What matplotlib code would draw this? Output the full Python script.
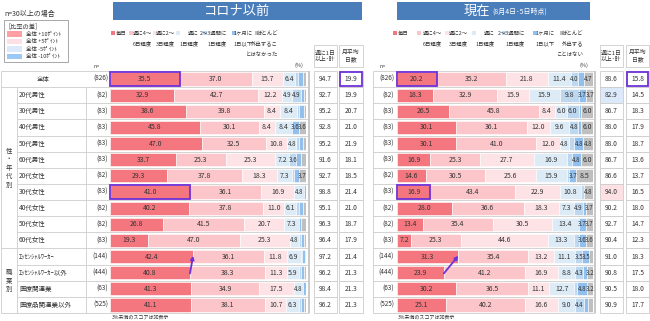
import matplotlib
matplotlib.use('Agg')
import matplotlib.pyplot as plt
from matplotlib.patches import Rectangle, FancyArrowPatch

plt.rcParams['font.family'] = ['Noto Sans CJK JP', 'DejaVu Sans']

# ---------------- data ----------------
categories = ['全体', '20代男性', '30代男性', '40代男性', '50代男性', '60代男性',
              '20代女性', '30代女性', '40代女性', '50代女性', '60代女性',
              'ｴｯｾﾝｼｬﾙﾜｰｶｰ', 'ｴｯｾﾝｼｬﾙﾜｰｶｰ以外', '医療関連業', '医療品関連業以外']
n_values = [826, 82, 83, 83, 83, 83, 82, 83, 82, 82, 83, 144, 444, 63, 525]
group_labels = ['性・年代別', '職業別']

series_before = ['毎日', '週に4～\n6日程度', '週に2～\n3日程度', '週に\n1日程度',
                 '2～3週間に\n1日程度', '1ヶ月に\n1日以下', 'ほとんど\n外出するこ\nとはなかった']
series_now = ['毎日', '週に4～\n6日程度', '週に2～\n3日程度', '週に\n1日程度',
              '2～3週間に\n1日程度', '1ヶ月に\n1日以下', 'ほとんど\n外出する\nことはない']

before_daily = [35.5, 32.9, 38.6, 45.8, 47.0, 33.7, 29.3, 41.0, 40.2, 26.8, 19.3, 42.4, 40.8, 41.3, 41.1]
before_4to6 = [37.0, 42.7, 39.8, 30.1, 32.5, 25.3, 37.8, 36.1, 37.8, 41.5, 47.0, 36.1, 38.3, 34.9, 38.1]
before_2to3 = [15.7, 12.2, 8.4, 8.4, 10.8, 25.3, 18.3, 16.9, 11.0, 20.7, 25.3, 11.8, 11.3, 17.5, 10.7]
before_1day = [6.4, 4.9, 8.4, 8.4, 4.8, 7.2, 7.3, 4.8, 6.1, 7.3, 4.8, 6.9, 5.9, 4.8, 6.3]
before_2to3w = [1.5, 4.9, 1.2, 0.0, 1.2, 3.6, 1.2, 0.0, 1.2, 0.0, 1.2, 0.7, 1.1, 0.0, 1.0]
before_month = [2.2, 1.2, 2.4, 3.6, 2.4, 2.4, 2.4, 1.2, 2.4, 1.2, 1.2, 1.4, 1.6, 1.5, 1.8]
before_none = [1.7, 1.2, 1.2, 3.6, 1.2, 2.4, 3.7, 0.0, 1.2, 2.4, 1.2, 0.7, 1.0, 0.0, 1.0]
before_weekly = [94.7, 92.7, 95.2, 92.8, 95.2, 91.6, 92.7, 98.8, 95.1, 96.3, 96.4, 97.2, 96.2, 98.4, 96.2]
before_days = [19.9, 19.9, 20.7, 21.0, 21.9, 18.1, 18.5, 21.4, 21.0, 18.7, 17.9, 21.4, 21.3, 21.3, 21.3]

now_daily = [20.2, 18.3, 26.5, 30.1, 30.1, 16.9, 14.6, 16.9, 28.0, 13.4, 7.2, 31.3, 23.9, 30.2, 25.1]
now_4to6 = [35.2, 32.9, 45.8, 36.1, 41.0, 25.3, 30.5, 43.4, 36.6, 35.4, 25.3, 35.4, 41.2, 36.5, 40.2]
now_2to3 = [21.8, 15.9, 8.4, 12.0, 12.0, 27.7, 25.6, 22.9, 18.3, 30.5, 44.6, 13.2, 16.9, 11.1, 16.6]
now_1day = [11.4, 15.9, 6.0, 9.6, 4.8, 16.9, 15.9, 10.8, 7.3, 13.4, 13.3, 11.1, 8.8, 12.7, 9.0]
now_2to3w = [4.0, 9.8, 6.0, 4.8, 2.4, 2.4, 1.2, 1.2, 4.9, 0.0, 2.4, 3.5, 4.3, 1.5, 4.4]
now_month = [2.7, 3.7, 1.3, 1.4, 4.8, 4.8, 3.7, 0.0, 1.2, 3.7, 3.6, 3.5, 1.7, 4.8, 2.4]
now_none = [4.7, 3.7, 6.0, 6.0, 4.8, 6.0, 8.5, 4.8, 3.7, 3.7, 3.6, 2.0, 3.2, 3.2, 2.3]
now_weekly = [88.6, 82.9, 86.7, 88.0, 88.0, 86.7, 86.6, 94.0, 90.2, 92.7, 90.4, 91.0, 90.8, 90.5, 90.9]
now_days = [15.8, 14.5, 18.3, 17.9, 18.7, 13.6, 13.7, 16.5, 18.0, 14.7, 12.3, 18.3, 17.5, 18.0, 17.7]

diff_labels = ['全体 +10ﾎﾟｲﾝﾄ', '全体 +5ﾎﾟｲﾝﾄ', '全体 -5ﾎﾟｲﾝﾄ', '全体 -10ﾎﾟｲﾝﾄ']

# ---------------- style ----------------
seg_colors = ['#f4777f', '#fbc5c9', '#fde3e6', '#ddebf7', '#bdd7ee', '#92c0ee', '#bfbfbf']
diff_colors = ['#ff9ea3', '#fde0e3', '#dbe9fa', '#9cc8f5']
purple = '#7030d8'
grid = '#cccccc'
txt = '#333333'

W, H = 650, 321
fig = plt.figure(figsize=(6.5, 3.21), dpi=100)
ov = fig.add_axes([0, 0, 1, 1])
ov.set_xlim(0, W)
ov.set_ylim(H, 0)
ov.axis('off')

NR = len(categories)
TOP, BOT = 71, 313
PITCH = (BOT - TOP) / NR


def ry(i):
    return TOP + (i + 0.5) * PITCH


def hline(x0, x1, y, c=grid, lw=0.6):
    ov.plot([x0, x1], [y, y], color=c, lw=lw, solid_capstyle='butt')


def vline(x, y0, y1, c=grid, lw=0.6):
    ov.plot([x, x], [y0, y1], color=c, lw=lw, solid_capstyle='butt')


# ---- top-left legend ----
ov.text(4, 14, 'n=30以上の場合', fontsize=5, va='center', ha='left', color=txt)
ov.add_patch(Rectangle((4, 20), 64, 42, fill=False, ec='#999999', lw=0.6))
ov.text(8, 26, '[比率の差]', fontsize=4.5, va='center', ha='left', color=txt)
for k, (lab, col) in enumerate(zip(diff_labels, diff_colors)):
    y = 34 + k * 7.5
    ov.add_patch(Rectangle((7, y - 2.6), 15, 5.2, fc=col, ec='none'))
    ov.text(26, y, lab, fontsize=4, va='center', ha='left', color=txt)

# ---- banners ----
ov.add_patch(Rectangle((113, 2), 249, 18, fc='#4a7ebb', ec='none'))
ov.text(237.5, 11.5, 'コロナ以前', fontsize=9.5, color='white', ha='center', va='center')
ov.add_patch(Rectangle((397, 2), 193, 18, fc='#4a7ebb', ec='none'))
ov.text(490, 11.5, '現在', fontsize=9.5, color='white', ha='right', va='center')
ov.text(492, 12, '(8月4日･5日時点)', fontsize=5, color='white', ha='left', va='center')


# ---- series legends ----
def series_legend(names, marks, rights, pct_right, pct_y):
    for name, col, mx, rx in zip(names, seg_colors, marks, rights):
        ov.add_patch(Rectangle((mx, 31), 3.6, 3.6, fc=col, ec='none'))
        for j, line in enumerate(name.split('\n')):
            ov.text(rx, 33 + j * 10.5, line, fontsize=3.9, ha='right', va='center', color=txt)
    ov.text(pct_right, pct_y, '(%)', fontsize=4, ha='right', va='center', color=txt)


series_legend(series_before, [111, 129, 153, 176, 203, 232, 255],
              [127, 152, 175, 199, 227, 253, 278], 303, 65)
series_legend(series_now, [393, 417, 445, 472, 502, 533, 560],
              [408, 442, 468, 495, 525, 555, 583], 588, 65)

ov.text(94, 67, 'n=', fontsize=3.8, ha='left', va='center', color=txt)
ov.text(380, 67, 'n=', fontsize=3.8, ha='left', va='center', color=txt)

# ---- left label table ----
for k in range(NR + 1):
    y = TOP + k * PITCH
    if k in (0, 1, 11, NR):
        hline(1, 309, y)
    else:
        hline(17, 309, y)
vline(1, TOP, BOT)
vline(17, TOP + PITCH, BOT)
vline(86, TOP + PITCH, BOT)
vline(308.5, TOP, BOT, c='#c8c8c8', lw=1.4)
ov.text(43, ry(0), categories[0], fontsize=4.6, ha='center', va='center', color=txt)
for i in range(1, NR):
    ov.text(19, ry(i), categories[i], fontsize=4.7, ha='left', va='center', color=txt)
for i in range(NR):
    ov.text(108, ry(i), f'({n_values[i]})', fontsize=4.6, ha='right', va='center', color=txt)
    ov.text(394, ry(i), f'({n_values[i]})', fontsize=4.6, ha='right', va='center', color=txt)
ov.text(9, (TOP + PITCH + TOP + 11 * PITCH) / 2, '\n'.join(group_labels[0]), fontsize=4.6,
        ha='center', va='center', color=txt, linespacing=1.1)
ov.text(9, (TOP + 11 * PITCH + BOT) / 2, '\n'.join(group_labels[1]), fontsize=4.6,
        ha='center', va='center', color=txt, linespacing=1.1)

# ---- right table frame ----
for k in range(NR + 1):
    hline(373, 595, TOP + k * PITCH)
vline(373, TOP, BOT)
vline(594.5, TOP, BOT, c='#c8c8c8', lw=1.4)


# ---- summary columns ----
def diff_color(v, base):
    d = v - base
    if d >= 10:
        return diff_colors[0]
    if d >= 5:
        return diff_colors[1]
    if d <= -10:
        return diff_colors[3]
    if d <= -5:
        return diff_colors[2]
    return 'white'


def summary_cols(x1, x2, weekly, days):
    w = 23.5
    for xc, head in ((x1, '週に1日\n以上･計'), (x2, '月平均\n日数')):
        ov.add_patch(Rectangle((xc - w / 2, 45), w, 22, fill=False, ec=grid, lw=0.6))
        ov.text(xc, 56, head, fontsize=4.2, ha='center', va='center', color=txt, linespacing=1.4)
    for col, xc in ((weekly, x1), (days, x2)):
        for i, v in enumerate(col):
            fc = diff_color(v, col[0]) if n_values[i] >= 30 else 'white'
            ov.add_patch(Rectangle((xc - w / 2, TOP + i * PITCH), w, PITCH, fc=fc, ec=grid, lw=0.6))
            ov.text(xc, ry(i), f'{v:.1f}', fontsize=4.8, ha='center', va='center', color=txt)
    ov.add_patch(Rectangle((x2 - w / 2 + 0.8, TOP + 0.8), w - 1.6, PITCH - 1.6, fill=False,
                           ec=purple, lw=1.3, zorder=5))


summary_cols(325.5, 351, before_weekly, before_days)
summary_cols(611.5, 637.5, now_weekly, now_days)

ov.text(112, 317, '3%未満のスコアは非表示', fontsize=3.6, ha='left', va='center', color=txt)
ov.text(398, 317, '3%未満のスコアは非表示', fontsize=3.6, ha='left', va='center', color=txt)


# ---- stacked bars ----
def bar_panel(x0, x1, series):
    ax = fig.add_axes([x0 / W, 1 - BOT / H, (x1 - x0) / W, (BOT - TOP) / H])
    ax.set_xlim(0, 100)
    ax.set_ylim(NR - 0.5, -0.5)
    ax.axis('off')
    ax.patch.set_alpha(0)
    ys = list(range(NR))
    left = [0.0] * NR
    for vals, col in zip(series, seg_colors):
        ax.barh(ys, vals, left=left, height=0.82, color=col, edgecolor='white', linewidth=0.4)
        for i, v in enumerate(vals):
            if v >= 3:
                fs = 5 if v >= 5 else 4.4
                ax.text(left[i] + v / 2, i, f'{v:.1f}', fontsize=fs, ha='center', va='center',
                        color=txt, clip_on=False)
        left = [a + b for a, b in zip(left, vals)]
    for i in (0, 7):
        ax.add_patch(Rectangle((0, i - 0.41), series[0][i], 0.82, fill=False, ec=purple,
                               lw=1.3, zorder=5, clip_on=False))
    ax.add_patch(FancyArrowPatch((series[0][12], 12.05), (series[0][11], 10.95),
                                 arrowstyle='-|>', mutation_scale=5, color=purple, lw=1.3,
                                 zorder=6, clip_on=False, shrinkA=0, shrinkB=0))
    return ax


bar_panel(110, 306, [before_daily, before_4to6, before_2to3, before_1day,
                     before_2to3w, before_month, before_none])
bar_panel(397, 593, [now_daily, now_4to6, now_2to3, now_1day,
                     now_2to3w, now_month, now_none])

fig.savefig('out.png', dpi=100)
